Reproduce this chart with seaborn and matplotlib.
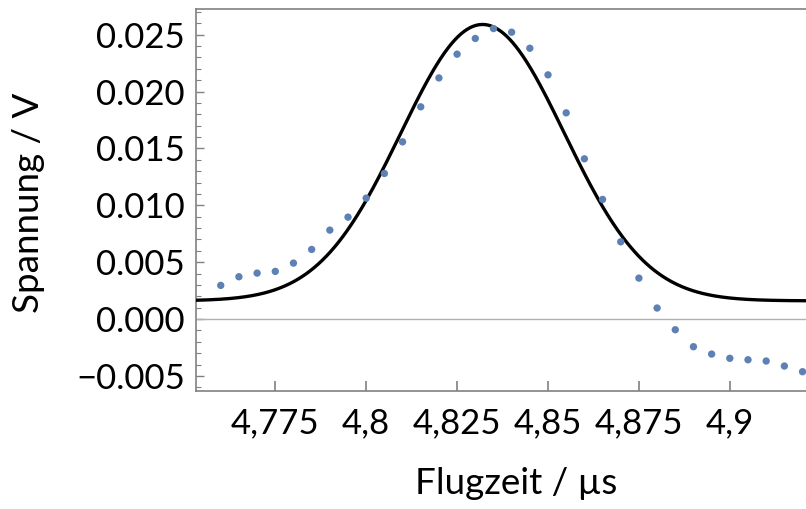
import numpy as np
import pandas as pd
import matplotlib
matplotlib.use("Agg")
import matplotlib.pyplot as plt
from matplotlib.ticker import MultipleLocator, FixedLocator, FixedFormatter
import seaborn as sns

# Measured signal: time of flight (µs) and voltage (V)
flugzeit = [4.760, 4.765, 4.770, 4.775, 4.780, 4.785, 4.790, 4.795, 4.800,
            4.805, 4.810, 4.815, 4.820, 4.825, 4.830, 4.835, 4.840, 4.845,
            4.850, 4.855, 4.860, 4.865, 4.870, 4.875, 4.880, 4.885, 4.890,
            4.895, 4.900, 4.905, 4.910, 4.915, 4.920]
spannung = [0.00296, 0.00372, 0.00404, 0.00419, 0.00492, 0.00612, 0.00782,
            0.00896, 0.01063, 0.01280, 0.01558, 0.01866, 0.02120, 0.02329,
            0.02467, 0.02554, 0.02522, 0.02381, 0.02147, 0.01813, 0.01409,
            0.01052, 0.00679, 0.00360, 0.00097, -0.00094, -0.00243, -0.00308,
            -0.00345, -0.00358, -0.00369, -0.00413, -0.00463]

# Gaussian fit parameters: offset, amplitude, centre, width
fit_offset = 0.0016
fit_amplitude = 0.0243
fit_center = 4.832
fit_sigma = 0.0225

x_ticks = [4.775, 4.8, 4.825, 4.85, 4.875, 4.9]
x_tick_labels = ["4,775", "4,8", "4,825", "4,85", "4,875", "4,9"]
y_ticks = [-0.005, 0.0, 0.005, 0.010, 0.015, 0.020, 0.025]
y_tick_labels = ["\u22120.005", "0.000", "0.005", "0.010", "0.015", "0.020", "0.025"]

x_range = (4.7532, 4.92095)
y_range = (-0.0063, 0.02726)

sns.set_style("ticks")
plt.rcParams["font.family"] = ["Lato", "DejaVu Sans"]

fig = plt.figure(figsize=(8.06, 5.09), dpi=100)
ax = fig.add_axes([0.2432, 0.2324, 0.7568, 0.7499])

messung = pd.DataFrame({"t": flugzeit, "u": spannung})
t_fit = np.linspace(x_range[0], x_range[1], 600)
fit = pd.DataFrame({
    "t": t_fit,
    "u": fit_offset + fit_amplitude * np.exp(-0.5 * ((t_fit - fit_center) / fit_sigma) ** 2),
})

ax.axhline(0.0, color="#b0b0b0", lw=1.0, zorder=1)
sns.lineplot(data=fit, x="t", y="u", ax=ax, color="black", lw=2.4, zorder=3)
sns.scatterplot(data=messung, x="t", y="u", ax=ax, color="#5E81B5",
                s=28, edgecolor="none", zorder=4)

ax.set_xlim(*x_range)
ax.set_ylim(*y_range)

ax.xaxis.set_major_locator(FixedLocator(x_ticks))
ax.xaxis.set_major_formatter(FixedFormatter(x_tick_labels))
ax.yaxis.set_major_locator(FixedLocator(y_ticks))
ax.yaxis.set_major_formatter(FixedFormatter(y_tick_labels))
ax.yaxis.set_minor_locator(MultipleLocator(0.001))

ax.tick_params(axis="both", which="both", direction="in", color="#808080",
               labelsize=25, labelcolor="black")
ax.tick_params(axis="x", which="major", length=7, width=1.2, pad=12)
ax.tick_params(axis="y", which="major", length=6, width=1.0, pad=8)
ax.tick_params(axis="y", which="minor", length=3.5, width=0.8)

for side in ("left", "bottom", "top"):
    ax.spines[side].set_color("#808080")
    ax.spines[side].set_linewidth(1.2)
ax.spines["right"].set_visible(False)

ax.set_xlabel("Flugzeit / \u00b5s", fontsize=26.5, color="black")
ax.set_ylabel("Spannung / V", fontsize=26.5, color="black")
ax.xaxis.set_label_coords(0.5246, -0.2)
ax.yaxis.set_label_coords(-0.248, 0.493)

fig.savefig("out.png", dpi=100)
